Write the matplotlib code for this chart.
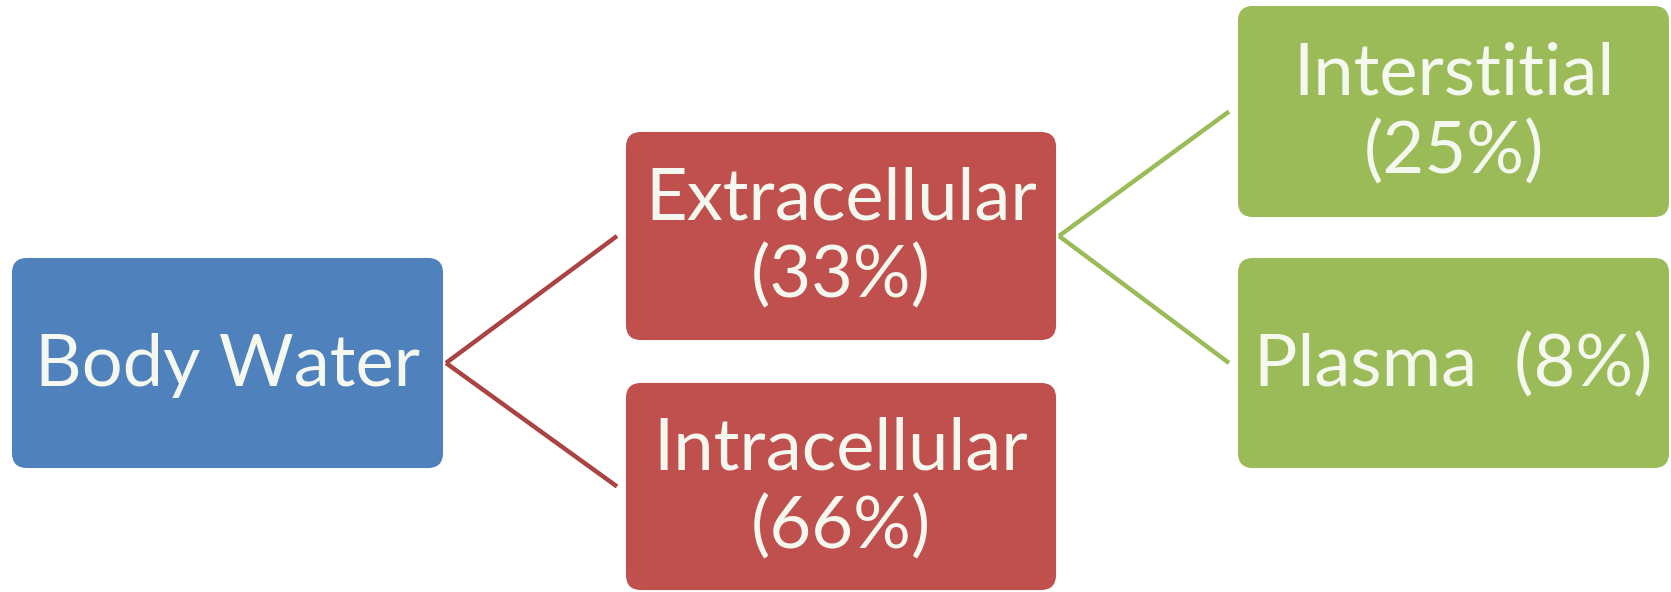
import matplotlib
matplotlib.use("Agg")
import matplotlib.pyplot as plt
from matplotlib.patches import FancyBboxPatch

# ---- data ----
node_labels = ["Body Water", "Extracellular\n(33%)", "Intracellular\n(66%)",
               "Interstitial\n(25%)", "Plasma  (8%)"]
edges = [(0, 1), (0, 2), (1, 3), (1, 4)]

# ---- layout (pixel coords of full image) ----
W, H = 1671, 592
boxes = [  # x0, y0, x1, y1
    (13, 259, 442, 467),
    (627, 133, 1055, 339),
    (627, 384, 1055, 589),
    (1239, 7, 1668, 216),
    (1239, 259, 1668, 467),
]
fills = ["#4F81BD", "#C0504D", "#C0504D", "#9BBB59", "#9BBB59"]
edge_cols = {0: "#A94442", 1: "#9BBB59"}

fig = plt.figure(figsize=(W / 100, H / 100), dpi=100)
ax = fig.add_axes([0, 0, 1, 1])
ax.set_xlim(0, W)
ax.set_ylim(H, 0)
ax.axis("off")

for (a, b) in edges:
    xa0, ya0, xa1, ya1 = boxes[a]
    xb0, yb0, xb1, yb1 = boxes[b]
    ax.plot([xa1 + 4, xb0 - 10], [(ya0 + ya1) / 2, (yb0 + yb1) / 2],
            color=edge_cols[a], lw=3.2, solid_capstyle="butt", zorder=1)

for lab, (x0, y0, x1, y1), fc in zip(node_labels, boxes, fills):
    r = 14
    p = FancyBboxPatch((x0 + r, y0 + r), (x1 - x0) - 2 * r, (y1 - y0) - 2 * r,
                       boxstyle=f"round,pad={r}", fc=fc, ec=fc, lw=1.5, zorder=2)
    ax.add_patch(p)
    ax.text((x0 + x1) / 2, (y0 + y1) / 2 + 2, lab, ha="center", va="center",
            color="#F4F8EE", fontsize=52, family="Lato", linespacing=1.22,
            zorder=3)

fig.savefig("out.png", dpi=100, facecolor="white")
